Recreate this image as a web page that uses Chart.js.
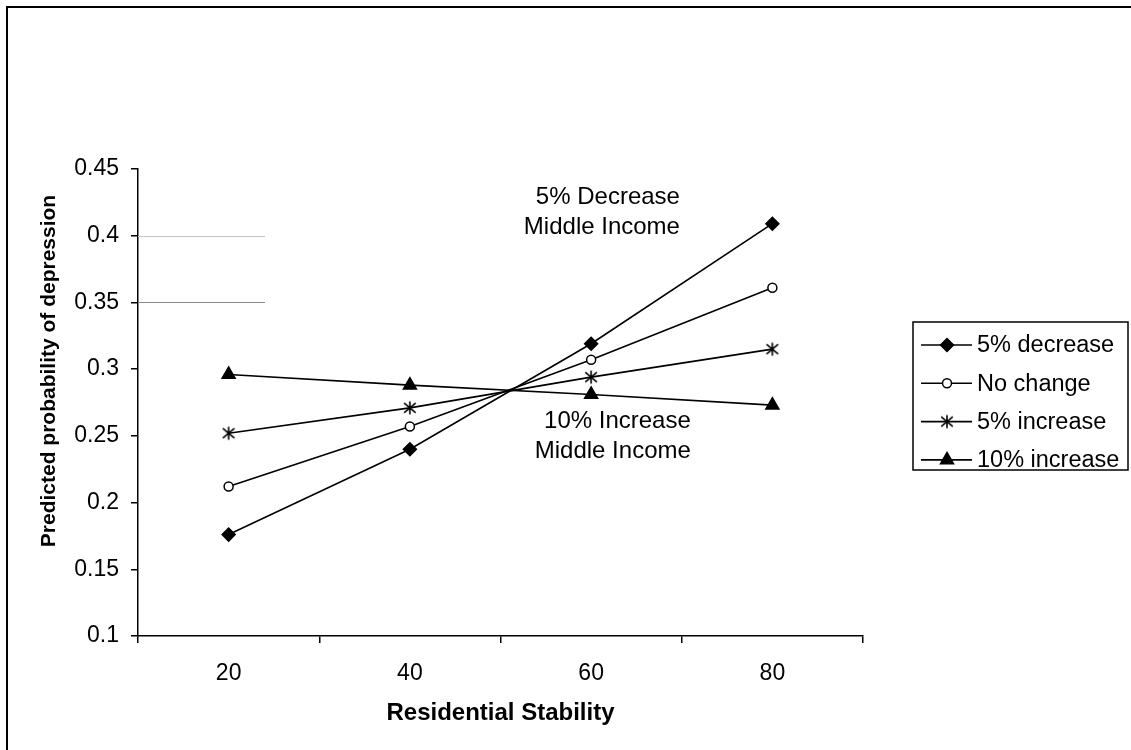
<!DOCTYPE html>
<html><head><meta charset="utf-8">
<script src="https://cdn.jsdelivr.net/npm/chart.js@4.4.1/dist/chart.umd.min.js"></script>
<style>
html,body{margin:0;padding:0;background:#fff;overflow:hidden;}
#wrap{position:relative;width:1131px;height:750px;}
#frame{position:absolute;left:6px;top:6px;width:1200px;height:800px;border:2px solid #000;pointer-events:none;box-sizing:border-box;}
canvas{display:block;}
</style></head><body>
<div id="wrap"><canvas id="c" width="1131" height="750"></canvas><div id="frame"></div></div>
<script>
// ---- data ----
const categories = ['20', '40', '60', '80'];
const decrease5 = [0.176, 0.240, 0.319, 0.409];
const noChange = [0.212, 0.257, 0.307, 0.361];
const increase5 = [0.252, 0.271, 0.294, 0.315];
const increase10 = [0.296, 0.288, 0.281, 0.273];
const seriesLabels = ['5% decrease', 'No change', '5% increase', '10% increase'];
const yMin = 0.1, yMax = 0.45, yStep = 0.05;
const xTitle = 'Residential Stability';
const yTitle = 'Predicted probability of depression';
const noteTop = ['5% Decrease', 'Middle Income'];
const noteBottom = ['10% Increase', 'Middle Income'];

const FAM = '"Liberation Sans", Arial, Helvetica, sans-serif';

function makeStar() {
  const c = document.createElement('canvas');
  c.width = 16; c.height = 16;
  const g = c.getContext('2d');
  g.strokeStyle = '#000'; g.lineWidth = 1.6;
  g.beginPath();
  g.moveTo(2.2, 3.2); g.lineTo(13.8, 12.8);
  g.moveTo(13.8, 3.2); g.lineTo(2.2, 12.8);
  g.moveTo(8, 1.5); g.lineTo(8, 14.5);
  g.stroke();
  return c;
}
const star = makeStar();

function ds(label, data, style, radius, fill) {
  return {
    label, data,
    borderColor: '#000', borderWidth: 1.6,
    pointStyle: style, pointRadius: radius, pointHoverRadius: radius,
    pointBackgroundColor: fill, pointBorderColor: '#000', pointBorderWidth: 1.5,
    tension: 0, fill: false
  };
}

const datasets = [
  ds(seriesLabels[0], decrease5, 'rectRot', 6.5, '#000'),
  ds(seriesLabels[1], noChange, 'circle', 4.5, '#fff'),
  ds(seriesLabels[2], increase5, star, 6, '#000'),
  ds(seriesLabels[3], increase10, 'triangle', 7.5, '#000')
];

const notes = [
  { lines: noteTop, x: 2.49, y: 0.429 },
  { lines: noteBottom, x: 2.55, y: 0.2606 }
];

const extrasPlugin = {
  id: 'extras',
  beforeDatasetsDraw(chart) {
    const { ctx, chartArea, scales: { y } } = chart;
    ctx.save();
    ctx.lineWidth = 1;
    [[0.4, '#c4c4c4'], [0.35, '#8a8a8a']].forEach(([v, col]) => {
      const py = Math.round(y.getPixelForValue(v)) + 0.5;
      ctx.strokeStyle = col;
      ctx.beginPath();
      ctx.moveTo(chartArea.left, py);
      ctx.lineTo(chartArea.left + 127, py);
      ctx.stroke();
    });
    ctx.restore();
  },
  afterDatasetsDraw(chart) {
    const { ctx, scales: { x, y } } = chart;
    ctx.save();
    ctx.fillStyle = '#000';
    ctx.font = '24px ' + FAM;
    ctx.textAlign = 'right';
    ctx.textBaseline = 'middle';
    notes.forEach(n => {
      const px = x.getPixelForValue(n.x);
      const py = y.getPixelForValue(n.y);
      n.lines.forEach((t, i) => ctx.fillText(t, px, py + i * 30));
    });
    // y axis title
    ctx.save();
    ctx.translate(49, 371);
    ctx.rotate(-Math.PI / 2);
    ctx.font = 'bold 21px ' + FAM;
    ctx.textAlign = 'center';
    ctx.textBaseline = 'middle';
    ctx.fillText(yTitle, 0, 0);
    ctx.restore();
    ctx.restore();
  },
  afterDraw(chart) {
    const { ctx } = chart;
    const bx = 913, by = 322, bw = 215, bh = 148;
    ctx.save();
    ctx.strokeStyle = '#000';
    ctx.lineWidth = 1.5;
    ctx.strokeRect(bx, by, bw, bh);
    ctx.font = '23.5px ' + FAM;
    ctx.textBaseline = 'middle';
    ctx.textAlign = 'left';
    chart.data.datasets.forEach((d, i) => {
      const cy = 345 + i * 38.3;
      ctx.strokeStyle = '#000';
      ctx.lineWidth = 1.6;
      ctx.beginPath();
      ctx.moveTo(921, cy); ctx.lineTo(972, cy);
      ctx.stroke();
      ctx.fillStyle = d.pointBackgroundColor;
      ctx.strokeStyle = '#000';
      ctx.lineWidth = d.pointBorderWidth;
      Chart.helpers.drawPoint(ctx, { pointStyle: d.pointStyle, radius: d.pointRadius, rotation: 0, borderWidth: d.pointBorderWidth }, 947, cy);
      ctx.fillStyle = '#000';
      ctx.fillText(d.label, 977, cy + 1);
    });
    ctx.restore();
  }
};

new Chart(document.getElementById('c'), {
  type: 'line',
  data: { labels: categories, datasets },
  plugins: [extrasPlugin],
  options: {
    responsive: false,
    animation: false,
    layout: { padding: { left: 30, top: 169, right: 268, bottom: 22 } },
    plugins: { legend: { display: false }, tooltip: { enabled: false } },
    scales: {
      x: {
        type: 'category',
        offset: true,
        grid: { offset: true, drawOnChartArea: false, drawTicks: true, tickLength: 7, color: '#000', lineWidth: 1.5 },
        border: { display: true, color: '#000', width: 1.5 },
        ticks: { color: '#000', font: { size: 23, family: FAM }, padding: 17, maxRotation: 0 },
        title: { display: true, text: xTitle, color: '#000', font: { size: 24, weight: 'bold', family: FAM }, padding: 0 },
        afterFit(s) { s.height = 92; }
      },
      y: {
        min: yMin, max: yMax,
        grid: { drawOnChartArea: false, drawTicks: true, tickLength: 7, color: '#000', lineWidth: 1.5 },
        border: { display: true, color: '#000', width: 1.5 },
        ticks: {
          stepSize: yStep, color: '#000', font: { size: 23, family: FAM }, padding: 12,
          callback: v => String(parseFloat(Number(v).toFixed(2)))
        },
        title: { display: false },
        afterFit(s) { s.width = 108; }
      }
    }
  }
});
</script>
</body></html>
